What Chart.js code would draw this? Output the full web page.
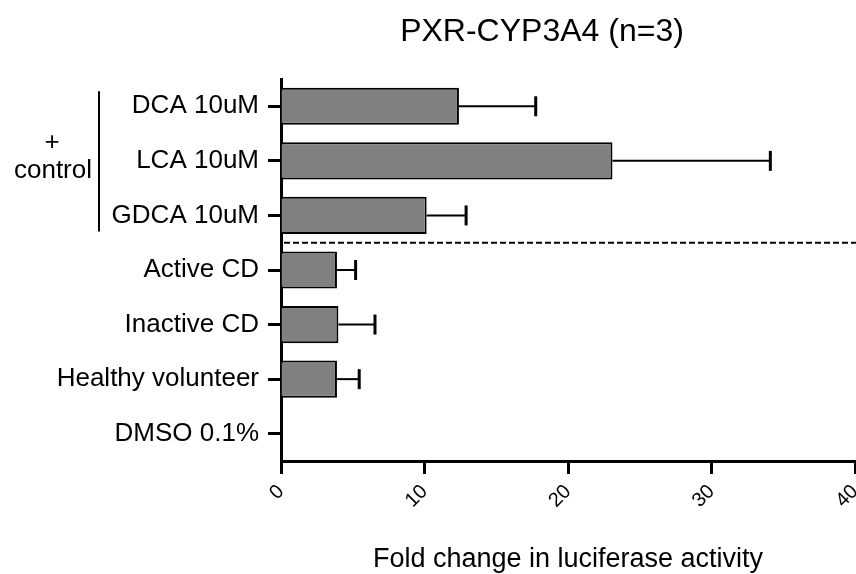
<!DOCTYPE html>
<html>
<head>
<meta charset="utf-8">
<script src="https://cdn.jsdelivr.net/npm/chart.js@4.4.0/dist/chart.umd.min.js"></script>
<style>
  html, body { margin: 0; padding: 0; background: #fff; }
  canvas { display: block; }
</style>
</head>
<body>
<canvas id="grafico_barras" width="856" height="574"></canvas>
<script>
// data
const categories = ['DCA 10uM', 'LCA 10uM', 'GDCA 10uM', 'Active CD', 'Inactive CD', 'Healthy volunteer', 'DMSO 0.1%'];
const foldChange = [12.4, 23.1, 10.15, 3.9, 4.0, 3.9, 0];
const errorSD = [5.35, 11.0, 2.75, 1.3, 2.55, 1.55, 0];
const xTicks = [0, 10, 20, 30, 40];

const FONT = '"Liberation Sans", Arial, Helvetica, sans-serif';

// horizontal error bars (upper side only, as in the original)
const errorBars = {
  id: 'errorBars',
  afterDatasetsDraw(chart) {
    const ctx = chart.ctx;
    const x = chart.scales.x;
    const meta = chart.getDatasetMeta(0);
    ctx.save();
    ctx.strokeStyle = '#000';
    meta.data.forEach((bar, i) => {
      const sd = errorSD[i];
      if (!sd) return;
      const x0 = x.getPixelForValue(foldChange[i]);
      const x1 = x.getPixelForValue(foldChange[i] + sd);
      ctx.lineWidth = 2;
      ctx.beginPath();
      ctx.moveTo(x0, bar.y);
      ctx.lineTo(x1, bar.y);
      ctx.stroke();
      ctx.lineWidth = 3;
      ctx.beginPath();
      ctx.moveTo(x1, bar.y - 10);
      ctx.lineTo(x1, bar.y + 10);
      ctx.stroke();
    });
    ctx.restore();
  }
};

// title, "+ control" bracket and the dashed separator
const extras = {
  id: 'extras',
  afterDraw(chart) {
    const ctx = chart.ctx;
    const y = chart.scales.y;
    const area = chart.chartArea;
    ctx.save();
    ctx.fillStyle = '#000';
    ctx.strokeStyle = '#000';

    ctx.font = '32px ' + FONT;
    ctx.textAlign = 'center';
    ctx.textBaseline = 'alphabetic';
    ctx.fillText('PXR-CYP3A4 (n=3)', 542, 41);

    // dashed line between positive controls and samples
    const yd = (y.getPixelForValue(2) + y.getPixelForValue(3)) / 2;
    ctx.lineWidth = 2;
    ctx.setLineDash([6, 3]);
    ctx.beginPath();
    ctx.moveTo(area.left + 3, yd);
    ctx.lineTo(chart.width, yd);
    ctx.stroke();
    ctx.setLineDash([]);

    // bracket
    const top = y.getPixelForValue(0) - 15;
    const bot = y.getPixelForValue(2) + 16;
    ctx.lineWidth = 2;
    ctx.beginPath();
    ctx.moveTo(99, top);
    ctx.lineTo(99, bot);
    ctx.stroke();

    ctx.font = '26px ' + FONT;
    ctx.fillText('+', 52, 150);
    ctx.fillText('control', 53, 178);
    ctx.restore();
  }
};

const ctx = document.getElementById('grafico_barras').getContext('2d');

const config = {
  type: 'bar',
  data: {
    labels: categories,
    datasets: [{
      data: foldChange,
      backgroundColor: '#808080',
      borderColor: '#000',
      borderWidth: 2,
      categoryPercentage: 1,
      barPercentage: 0.68
    }]
  },
  options: {
    indexAxis: 'y',
    responsive: false,
    animation: false,
    layout: {
      autoPadding: false,
      padding: { top: 79, right: 1, left: 0, bottom: 0 }
    },
    plugins: {
      legend: { display: false },
      tooltip: { enabled: false }
    },
    scales: {
      x: {
        min: 0,
        max: 40,
        afterBuildTicks: (scale) => { scale.ticks = xTicks.map(v => ({ value: v })); },
        afterFit: (scale) => {
          scale.height = 113;
          scale.paddingLeft = 0;
          scale.paddingRight = 0;
        },
        grid: { drawOnChartArea: false, tickLength: 13, tickWidth: 3, tickColor: '#000' },
        border: { color: '#000', width: 3 },
        ticks: {
          minRotation: 45,
          maxRotation: 45,
          padding: 6,
          color: '#000',
          font: { family: FONT, size: 20 }
        },
        title: {
          display: true,
          text: 'Fold change in luciferase activity',
          color: '#000',
          padding: { top: 0, bottom: 0 },
          font: { family: FONT, size: 27, lineHeight: 1.05 }
        }
      },
      y: {
        afterFit: (scale) => {
          scale.width = 281;
          scale.paddingTop = 0;
          scale.paddingBottom = 0;
        },
        grid: { drawOnChartArea: false, offset: false, tickLength: 13, tickWidth: 3, tickColor: '#000' },
        border: { color: '#000', width: 3 },
        ticks: {
          padding: 9,
          color: '#000',
          font: { family: FONT, size: 26 }
        }
      }
    }
  },
  plugins: [errorBars, extras]
};

const myChart = new Chart(ctx, config);
</script>
</body>
</html>
